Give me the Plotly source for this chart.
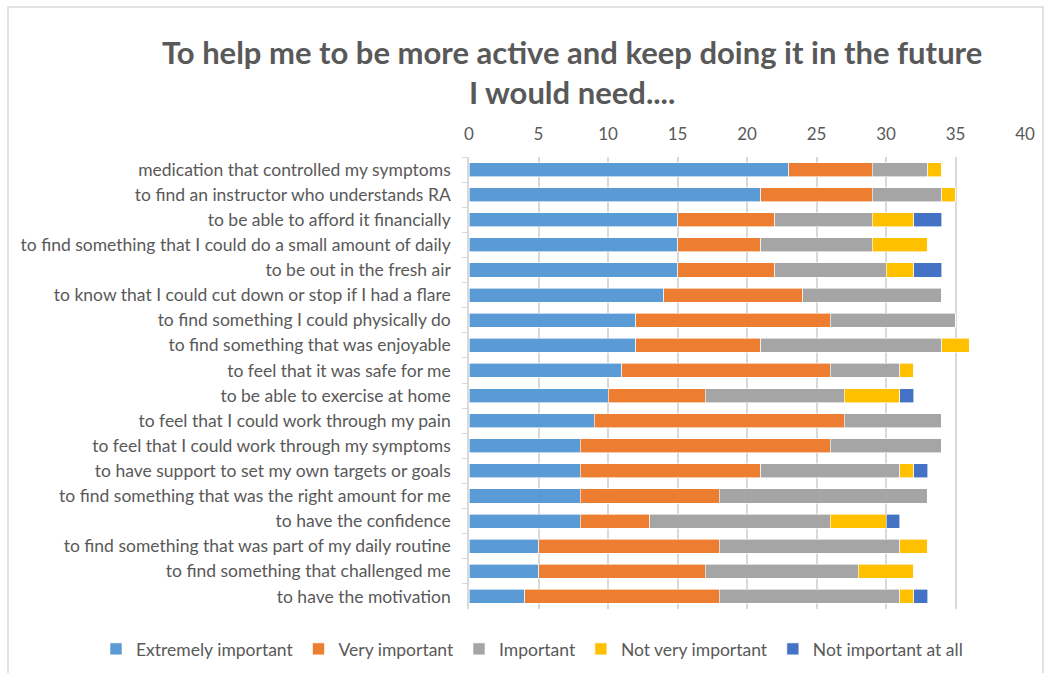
import plotly.graph_objects as go

categories = [
    "medication that controlled my symptoms",
    "to find an instructor who understands RA",
    "to be able to afford it financially",
    "to find something that I could do a small amount of daily",
    "to be out in the fresh air",
    "to know that I could cut down or stop if I had a flare",
    "to find something I could physically do",
    "to find something that was enjoyable",
    "to feel that it was safe for me",
    "to be able to exercise at home",
    "to feel that I could work through my pain",
    "to feel that I could work through my symptoms",
    "to have support to set my own targets or goals",
    "to find something that was the right amount for me",
    "to have the confidence",
    "to find something that was part of my daily routine",
    "to find something that challenged me",
    "to have the motivation",
]

extremely_important = [23, 21, 15, 15, 15, 14, 12, 12, 11, 10, 9, 8, 8, 8, 8, 5, 5, 4]
very_important      = [6, 8, 7, 6, 7, 10, 14, 9, 15, 7, 18, 18, 13, 10, 5, 13, 12, 14]
important           = [4, 5, 7, 8, 8, 10, 9, 13, 5, 10, 7, 8, 10, 15, 13, 13, 11, 13]
not_very_important  = [1, 1, 3, 4, 2, 0, 0, 2, 1, 4, 0, 0, 1, 0, 4, 2, 4, 1]
not_important_at_all = [0, 0, 2, 0, 2, 0, 0, 0, 0, 1, 0, 0, 1, 0, 1, 0, 0, 1]

series = [
    ("Extremely important", extremely_important, "#5B9BD5"),
    ("Very important", very_important, "#ED7D31"),
    ("Important", important, "#A5A5A5"),
    ("Not very important", not_very_important, "#FFC000"),
    ("Not important at all", not_important_at_all, "#4472C4"),
]

FONT = "Lato, 'Open Sans', sans-serif"
GRAY = "#595959"

L, R, T, B = 469, 19, 157, 64
W, H = 1044, 673
PW, PH = W - L - R, H - T - B

fig = go.Figure()
for name, vals, color in series:
    fig.add_trace(go.Bar(
        y=categories, x=vals, name=name, orientation="h",
        marker=dict(color=color, line=dict(width=0.6, color="white")),
    ))

fig.update_layout(
    barmode="stack",
    bargap=0.44,
    width=W, height=H,
    margin=dict(l=L, r=R, t=T, b=B, autoexpand=False),
    paper_bgcolor="white", plot_bgcolor="white",
    font=dict(family=FONT, color=GRAY, size=17),
    title=dict(
        text="<b>To help me to be more active and keep doing it in the future<br>I would need....</b>",
        x=0.548, xref="container", xanchor="center",
        y=0.905, yref="container", yanchor="top",
        font=dict(family=FONT, size=31, color=GRAY),
    ),
    xaxis=dict(
        side="top", range=[0, 40], dtick=5, tick0=0,
        showgrid=True, gridcolor="#D9D9D9", gridwidth=1.5,
        zeroline=False, showline=False, ticks="",
        tickfont=dict(size=17, color=GRAY),
        ticklabelstandoff=13, automargin=False,
    ),
    yaxis=dict(
        autorange="reversed", type="category",
        showline=True, linecolor="#D9D9D9", linewidth=1.5,
        ticks="outside", tickson="boundaries", ticklen=5, tickcolor="#D9D9D9",
        tickfont=dict(size=17.5, color=GRAY),
        ticklabelstandoff=13, automargin=False,
        showgrid=False,
    ),
    legend=dict(
        orientation="h", xref="paper", yref="paper",
        x=(96 - L) / PW, xanchor="left",
        y=(H - B - 649) / PH, yanchor="middle",
        font=dict(size=17.5, color=GRAY), traceorder="normal",
        itemwidth=30,
    ),
    shapes=[dict(
        type="rect", xref="paper", yref="paper",
        x0=(8 - L) / PW, x1=(1043 - L) / PW,
        y0=(H - B - 680) / PH, y1=(H - B - 7) / PH,
        line=dict(color="#D9D9D9", width=1.5), layer="below",
    )],
)

fig.write_html("out.html", config={"displayModeBar": False},
               post_script="document.body.style.margin='0';")
